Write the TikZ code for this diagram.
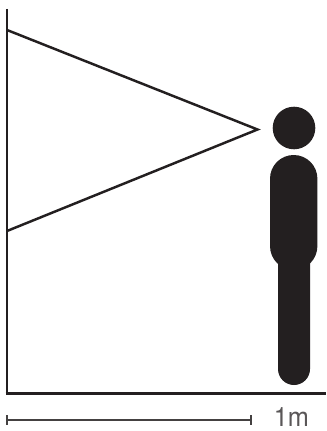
\documentclass[tikz,border=0pt]{standalone}
\usepackage{fontspec}
\setmainfont{TeX Gyre Heros}
\definecolor{ink}{HTML}{231F20}
\tikzset{
  axisline/.style={draw=ink,line width=2.2pt,line cap=butt},
  rayline/.style={draw=ink,line width=1.85pt,line join=miter},
  scaleline/.style={draw=ink!85,line width=0.9pt},
  bodypart/.style={fill=ink,draw=none}
}
\begin{document}
\begin{tikzpicture}[x=0.75pt,y=-0.75pt]
\useasboundingbox (0,0) rectangle (326,431);
\fill[white] (0,0) rectangle (326,431);
% axes
\coordinate (top) at (7,9);
\coordinate (origin) at (7,393.5);
\coordinate (right) at (326,393.5);
\draw[axisline] (top) -- (origin);
\draw[axisline] (5.5,393.5) -- (right);
% view cone
\coordinate (ray1) at (7,30);
\coordinate (eye) at (257.5,129.5);
\coordinate (ray2) at (7,231);
\draw[rayline] (ray1) -- (eye) -- (ray2);
% person
\fill[bodypart] (294,128) circle (21.3);
\fill[bodypart] (278,250) -- (310,250) -- (310,369) arc[start angle=0,delta angle=180,radius=16] -- cycle;
\fill[bodypart] (270,178.7) arc[start angle=180,delta angle=180,radius=23.7]
  -- (317.4,246) arc[start angle=0,delta angle=180,x radius=23.7,y radius=24] -- cycle;
% scale bar
\coordinate (s1) at (7,420);
\coordinate (s2) at (251,420);
\draw[scaleline] (s1) -- (s2);
\draw[scaleline] (7,415) -- (7,425);
\draw[scaleline] (251,415) -- (251,425);
\node[anchor=base west,inner sep=0pt,text=ink!75,xscale=0.95,font=\fontsize{20pt}{22pt}\selectfont] (label) at (273.5,426.5) {1m};
\end{tikzpicture}
\end{document}
